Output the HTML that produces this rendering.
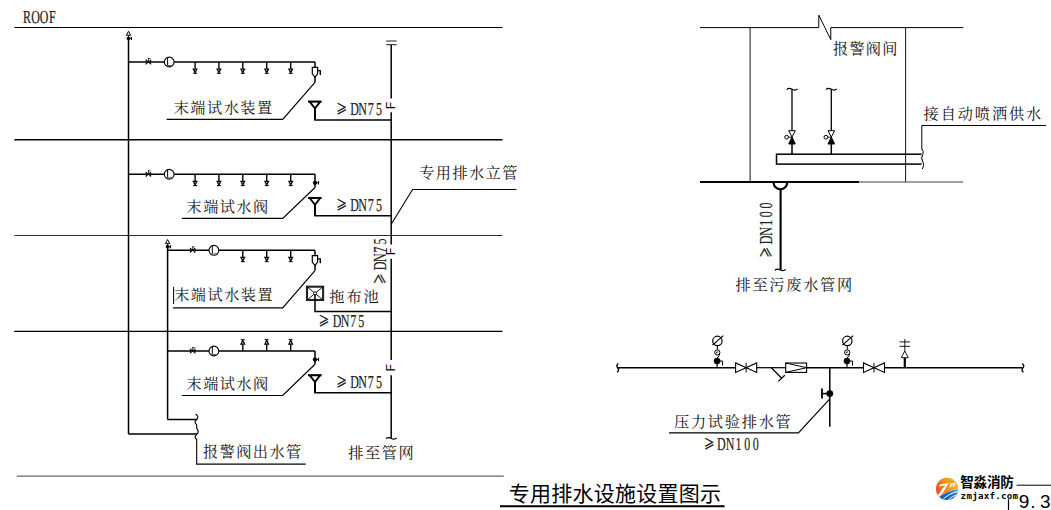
<!DOCTYPE html>
<html lang="zh-CN"><head><meta charset="utf-8"><title>专用排水设施设置图示</title>
<style>
html,body{margin:0;padding:0;background:#fff;}
body{width:1051px;height:510px;overflow:hidden;}
svg{display:block;}
text{fill:#000;}
.s{font-family:"Liberation Serif","Noto Serif CJK SC",serif;font-weight:400;fill:#111;}
.ge{font-family:"Noto Serif CJK SC",serif;fill:#222;font-weight:900;}
.l{font-family:"Liberation Serif","Noto Serif CJK SC",serif;fill:#222;text-rendering:geometricPrecision;}
.h{font-family:"Liberation Sans","Noto Sans CJK SC",sans-serif;}
.hb{font-family:"Liberation Sans","Noto Sans CJK SC",sans-serif;font-weight:700;}
.m{font-family:"DejaVu Sans Mono","Liberation Mono",monospace;font-weight:700;}
.a{font-family:"Liberation Sans",sans-serif;}
</style></head>
<body>
<svg width="1051" height="510" viewBox="0 0 1051 510">
<rect x="0" y="0" width="1051" height="510" fill="#fff"/>
<line x1="14.4" y1="27.5" x2="502.5" y2="27.5" stroke="#000" stroke-width="1.0" />
<line x1="14.4" y1="139.7" x2="502.5" y2="139.7" stroke="#000" stroke-width="1.5" />
<line x1="14.4" y1="235.5" x2="502.5" y2="235.5" stroke="#2a2a2a" stroke-width="1.1" />
<line x1="14.2" y1="331.35" x2="502.5" y2="331.35" stroke="#000" stroke-width="1.2" />
<line x1="16.7" y1="476.1" x2="503.8" y2="476.1" stroke="#666" stroke-width="1.4" />
<g>
<text class="l" text-anchor="middle" transform="scale(0.655,1)" x="41.37 54.24 67.11 79.98" y="22.5" font-size="18.3" stroke="#222" stroke-width="0.2">ROOF</text>
</g>
<line x1="128.5" y1="39" x2="128.5" y2="434.1" stroke="#000" stroke-width="1.5" />
<polygon points="128.5,31.2 126.4,35.3 130.6,35.3" fill="none" stroke="#000" stroke-width="1.0" />
<line x1="128.5" y1="35.3" x2="128.5" y2="39" stroke="#000" stroke-width="0.9" />
<circle cx="128.5" cy="38.4" r="1.6" fill="#000" stroke="#000" stroke-width="0.5"/>
<line x1="128.5" y1="38.4" x2="131.5" y2="38.4" stroke="#000" stroke-width="1.0" />
<line x1="131.5" y1="36.8" x2="131.5" y2="40" stroke="#000" stroke-width="1.0" />
<polyline points="128.5,434.1 197,434.1" fill="none" stroke="#000" stroke-width="1.5" />
<line x1="167.6" y1="247.3" x2="167.6" y2="419.5" stroke="#000" stroke-width="1.5" />
<polygon points="167.6,239.5 165.5,243.60000000000002 169.7,243.60000000000002" fill="none" stroke="#000" stroke-width="1.0" />
<line x1="167.6" y1="243.60000000000002" x2="167.6" y2="247.3" stroke="#000" stroke-width="0.9" />
<circle cx="167.6" cy="246.70000000000002" r="1.6" fill="#000" stroke="#000" stroke-width="0.5"/>
<line x1="167.6" y1="246.70000000000002" x2="170.6" y2="246.70000000000002" stroke="#000" stroke-width="1.0" />
<line x1="170.6" y1="245.10000000000002" x2="170.6" y2="248.3" stroke="#000" stroke-width="1.0" />
<polyline points="167.6,419.5 197,419.5" fill="none" stroke="#000" stroke-width="1.5" />
<path d="M195.5,414 Q199.6,416.5 196.7,419.5 Q193.4,422.3 196.7,424.8 L196.7,428.3 Q199.6,431.5 196.7,434.4 Q193.4,437.2 196.7,439.5" fill="none" stroke="#000" stroke-width="1.1" />
<polyline points="196.7,439 196.7,464.1 305.7,464.1" fill="none" stroke="#000" stroke-width="1.1" />
<line x1="386.2" y1="41.0" x2="396.7" y2="41.0" stroke="#222" stroke-width="1.0" />
<line x1="386.2" y1="44.7" x2="396.7" y2="44.7" stroke="#000" stroke-width="0.9" />
<line x1="391.2" y1="44.7" x2="391.2" y2="98.6" stroke="#000" stroke-width="1.5" />
<text class="a" transform="translate(395.00,109.25) rotate(-90)" x="0" y="0" font-size="12.2">F</text>
<line x1="391.2" y1="112.2" x2="391.2" y2="244.4" stroke="#000" stroke-width="1.5" />
<text class="a" transform="translate(395.00,255.15) rotate(-90)" x="0" y="0" font-size="12.2">F</text>
<line x1="391.2" y1="258.8" x2="391.2" y2="360" stroke="#000" stroke-width="1.5" />
<text class="a" transform="translate(395.00,371.55) rotate(-90)" x="0" y="0" font-size="12.2">F</text>
<line x1="391.2" y1="375.2" x2="391.2" y2="438" stroke="#000" stroke-width="1.5" />
<path d="M385.9,438.7 q2,-2 5,-0.5 q3.5,2 5.8,-0.3" fill="none" stroke="#000" stroke-width="1.2" />
<line x1="128.5" y1="62.0" x2="315.0" y2="62.0" stroke="#000" stroke-width="1.5" />
<polygon points="146.1,59.7 146.1,64.3 150.70000000000002,59.7 150.70000000000002,64.3" fill="#333" stroke="#000" stroke-width="0.8" />
<line x1="148.4" y1="62.0" x2="148.4" y2="58.5" stroke="#000" stroke-width="0.8" />
<line x1="147.9" y1="58.5" x2="150.4" y2="58.5" stroke="#000" stroke-width="0.8" />
<circle cx="169.2" cy="62.0" r="4.9" fill="#fff" stroke="#000" stroke-width="1.1"/>
<line x1="167.6" y1="57.4" x2="167.6" y2="65.5" stroke="#000" stroke-width="1.0" />
<line x1="167.6" y1="65.5" x2="171.9" y2="65.5" stroke="#666" stroke-width="1.0" />
<line x1="195.1" y1="62.0" x2="195.1" y2="68.7" stroke="#000" stroke-width="1.4" />
<polygon points="193.29999999999998,69.0 196.9,69.0 195.1,72.6" fill="none" stroke="#000" stroke-width="1.25" />
<line x1="193.2" y1="73.3" x2="197.0" y2="73.3" stroke="#000" stroke-width="1.1" />
<line x1="218.9" y1="62.0" x2="218.9" y2="68.7" stroke="#000" stroke-width="1.4" />
<polygon points="217.1,69.0 220.70000000000002,69.0 218.9,72.6" fill="none" stroke="#000" stroke-width="1.25" />
<line x1="217.0" y1="73.3" x2="220.8" y2="73.3" stroke="#000" stroke-width="1.1" />
<line x1="242.8" y1="62.0" x2="242.8" y2="68.7" stroke="#000" stroke-width="1.4" />
<polygon points="241.0,69.0 244.60000000000002,69.0 242.8,72.6" fill="none" stroke="#000" stroke-width="1.25" />
<line x1="240.9" y1="73.3" x2="244.70000000000002" y2="73.3" stroke="#000" stroke-width="1.1" />
<line x1="266.7" y1="62.0" x2="266.7" y2="68.7" stroke="#000" stroke-width="1.4" />
<polygon points="264.9,69.0 268.5,69.0 266.7,72.6" fill="none" stroke="#000" stroke-width="1.25" />
<line x1="264.8" y1="73.3" x2="268.59999999999997" y2="73.3" stroke="#000" stroke-width="1.1" />
<line x1="290.7" y1="62.0" x2="290.7" y2="68.7" stroke="#000" stroke-width="1.4" />
<polygon points="288.9,69.0 292.5,69.0 290.7,72.6" fill="none" stroke="#000" stroke-width="1.25" />
<line x1="288.8" y1="73.3" x2="292.59999999999997" y2="73.3" stroke="#000" stroke-width="1.1" />
<line x1="315.0" y1="62.0" x2="315.0" y2="82.3" stroke="#000" stroke-width="1.5" />
<path d="M312.3,67.4 H317.6 V73.8 L315.0,77.3 L312.3,73.8 Z" fill="#fff" stroke="#000" stroke-width="1.2" />
<path d="M317.6,70.6 H320.3 V75.0" fill="none" stroke="#000" stroke-width="1.4" />
<polyline points="315.0,82.3 282.7,119.4 166.7,119.4" fill="none" stroke="#000" stroke-width="1.2" />
<line x1="308.0" y1="101.6" x2="321.6" y2="101.6" stroke="#000" stroke-width="2.1" />
<polyline points="309.6,101.6 315.0,108.39999999999999 320.2,101.6" fill="none" stroke="#000" stroke-width="1.9" />
<line x1="315.0" y1="107.6" x2="315.0" y2="120.1" stroke="#000" stroke-width="2.0" />
<polyline points="315.0,109.6 315.0,120.1 391.2,120.1" fill="none" stroke="#000" stroke-width="1.5" />
<text class="s" x="173.72 190.37 207.02 223.67 240.33 256.98" y="112.7" font-size="15.2">末端试水装置</text>
<g>
<text class="ge" transform="translate(336.40,113.90) scale(0.8,1.08)" x="0" y="0" font-size="13" stroke="#222" stroke-width="0.5">≥</text>
<text class="l" text-anchor="middle" transform="scale(0.655,1)" x="541.37 553.74 566.11 578.47" y="114.7" font-size="18.3" stroke="#222" stroke-width="0.2">DN75</text>
</g>
<line x1="128.5" y1="174.25" x2="315.0" y2="174.25" stroke="#000" stroke-width="1.5" />
<polygon points="146.1,171.95 146.1,176.55 150.70000000000002,171.95 150.70000000000002,176.55" fill="#333" stroke="#000" stroke-width="0.8" />
<line x1="148.4" y1="174.25" x2="148.4" y2="170.75" stroke="#000" stroke-width="0.8" />
<line x1="147.9" y1="170.75" x2="150.4" y2="170.75" stroke="#000" stroke-width="0.8" />
<circle cx="169.2" cy="174.25" r="4.9" fill="#fff" stroke="#000" stroke-width="1.1"/>
<line x1="167.6" y1="169.65" x2="167.6" y2="177.75" stroke="#000" stroke-width="1.0" />
<line x1="167.6" y1="177.75" x2="171.9" y2="177.75" stroke="#666" stroke-width="1.0" />
<line x1="195.1" y1="174.25" x2="195.1" y2="180.95" stroke="#000" stroke-width="1.4" />
<polygon points="193.29999999999998,181.25 196.9,181.25 195.1,184.85" fill="none" stroke="#000" stroke-width="1.25" />
<line x1="193.2" y1="185.55" x2="197.0" y2="185.55" stroke="#000" stroke-width="1.1" />
<line x1="218.9" y1="174.25" x2="218.9" y2="180.95" stroke="#000" stroke-width="1.4" />
<polygon points="217.1,181.25 220.70000000000002,181.25 218.9,184.85" fill="none" stroke="#000" stroke-width="1.25" />
<line x1="217.0" y1="185.55" x2="220.8" y2="185.55" stroke="#000" stroke-width="1.1" />
<line x1="242.8" y1="174.25" x2="242.8" y2="180.95" stroke="#000" stroke-width="1.4" />
<polygon points="241.0,181.25 244.60000000000002,181.25 242.8,184.85" fill="none" stroke="#000" stroke-width="1.25" />
<line x1="240.9" y1="185.55" x2="244.70000000000002" y2="185.55" stroke="#000" stroke-width="1.1" />
<line x1="266.7" y1="174.25" x2="266.7" y2="180.95" stroke="#000" stroke-width="1.4" />
<polygon points="264.9,181.25 268.5,181.25 266.7,184.85" fill="none" stroke="#000" stroke-width="1.25" />
<line x1="264.8" y1="185.55" x2="268.59999999999997" y2="185.55" stroke="#000" stroke-width="1.1" />
<line x1="290.7" y1="174.25" x2="290.7" y2="180.95" stroke="#000" stroke-width="1.4" />
<polygon points="288.9,181.25 292.5,181.25 290.7,184.85" fill="none" stroke="#000" stroke-width="1.25" />
<line x1="288.8" y1="185.55" x2="292.59999999999997" y2="185.55" stroke="#000" stroke-width="1.1" />
<line x1="315.0" y1="174.25" x2="315.0" y2="187.55" stroke="#000" stroke-width="1.5" />
<circle cx="315.0" cy="182.75" r="1.9" fill="#000" stroke="#000" stroke-width="0.5"/>
<line x1="315.0" y1="182.75" x2="318.6" y2="182.75" stroke="#000" stroke-width="1.0" />
<line x1="318.6" y1="180.95" x2="318.6" y2="184.55" stroke="#000" stroke-width="1.0" />
<polyline points="315.0,187.55 282.7,218.4 181.8,218.4" fill="none" stroke="#000" stroke-width="1.2" />
<line x1="308.0" y1="198" x2="321.6" y2="198" stroke="#000" stroke-width="2.1" />
<polyline points="309.6,198 315.0,204.8 320.2,198" fill="none" stroke="#000" stroke-width="1.9" />
<line x1="315.0" y1="204" x2="315.0" y2="215.7" stroke="#000" stroke-width="2.0" />
<polyline points="315.0,206 315.0,215.7 391.2,215.7" fill="none" stroke="#000" stroke-width="1.5" />
<text class="s" x="186.52 203.13 219.75 236.36 252.98" y="212.2" font-size="15.2">末端试水阀</text>
<g>
<text class="ge" transform="translate(336.40,210.00) scale(0.8,1.08)" x="0" y="0" font-size="13" stroke="#222" stroke-width="0.5">≥</text>
<text class="l" text-anchor="middle" transform="scale(0.655,1)" x="541.37 553.74 566.11 578.47" y="210.8" font-size="18.3" stroke="#222" stroke-width="0.2">DN75</text>
</g>
<polyline points="391.2,224.2 412.6,189.5 516.4,189.5" fill="none" stroke="#000" stroke-width="1.1" />
<text class="s" x="419.22 435.81 452.40 468.99 485.59 502.18" y="178.4" font-size="15.2">专用排水立管</text>
<line x1="167.6" y1="250.3" x2="315.0" y2="250.3" stroke="#000" stroke-width="1.5" />
<polygon points="190.39999999999998,248.0 190.39999999999998,252.60000000000002 195.0,248.0 195.0,252.60000000000002" fill="#333" stroke="#000" stroke-width="0.8" />
<line x1="192.7" y1="250.3" x2="192.7" y2="246.8" stroke="#000" stroke-width="0.8" />
<line x1="192.2" y1="246.8" x2="194.7" y2="246.8" stroke="#000" stroke-width="0.8" />
<circle cx="213.9" cy="250.3" r="4.9" fill="#fff" stroke="#000" stroke-width="1.1"/>
<line x1="212.3" y1="245.70000000000002" x2="212.3" y2="253.8" stroke="#000" stroke-width="1.0" />
<line x1="212.3" y1="253.8" x2="216.60000000000002" y2="253.8" stroke="#666" stroke-width="1.0" />
<line x1="242.8" y1="250.3" x2="242.8" y2="257.0" stroke="#000" stroke-width="1.4" />
<polygon points="241.0,257.3 244.60000000000002,257.3 242.8,260.90000000000003" fill="none" stroke="#000" stroke-width="1.25" />
<line x1="240.9" y1="261.6" x2="244.70000000000002" y2="261.6" stroke="#000" stroke-width="1.1" />
<line x1="266.7" y1="250.3" x2="266.7" y2="257.0" stroke="#000" stroke-width="1.4" />
<polygon points="264.9,257.3 268.5,257.3 266.7,260.90000000000003" fill="none" stroke="#000" stroke-width="1.25" />
<line x1="264.8" y1="261.6" x2="268.59999999999997" y2="261.6" stroke="#000" stroke-width="1.1" />
<line x1="290.7" y1="250.3" x2="290.7" y2="257.0" stroke="#000" stroke-width="1.4" />
<polygon points="288.9,257.3 292.5,257.3 290.7,260.90000000000003" fill="none" stroke="#000" stroke-width="1.25" />
<line x1="288.8" y1="261.6" x2="292.59999999999997" y2="261.6" stroke="#000" stroke-width="1.1" />
<line x1="315.0" y1="250.3" x2="315.0" y2="270.6" stroke="#000" stroke-width="1.5" />
<path d="M312.3,255.70000000000002 H317.6 V262.1 L315.0,265.6 L312.3,262.1 Z" fill="#fff" stroke="#000" stroke-width="1.2" />
<path d="M317.6,258.90000000000003 H320.3 V263.3" fill="none" stroke="#000" stroke-width="1.4" />
<polyline points="315.0,270.6 282.7,307.8 172.9,307.8" fill="none" stroke="#000" stroke-width="1.2" />
<line x1="173.6" y1="286.8" x2="173.6" y2="304" stroke="#000" stroke-width="1.0" />
<text class="s" x="174.22 190.87 207.52 224.17 240.83 257.48" y="300.3" font-size="15.2">末端试水装置</text>
<rect x="307" y="286.7" width="16.1" height="13.3" fill="#fff" stroke="#222" stroke-width="2.1"/>
<line x1="307" y1="286.7" x2="323.1" y2="300" stroke="#000" stroke-width="0.9" />
<line x1="307" y1="300" x2="323.1" y2="286.7" stroke="#000" stroke-width="0.9" />
<circle cx="315.0" cy="293.3" r="1.5" fill="#fff" stroke="#000" stroke-width="0.9"/>
<polyline points="315.0,294.8 315.0,311.4 391.2,311.4" fill="none" stroke="#000" stroke-width="1.5" />
<text class="s" x="329.32 346.45 363.58" y="302.4" font-size="15.2">拖布池</text>
<g>
<text class="ge" transform="translate(318.80,325.70) scale(0.8,1.08)" x="0" y="0" font-size="13" stroke="#222" stroke-width="0.5">≥</text>
<text class="l" text-anchor="middle" transform="scale(0.655,1)" x="514.50 526.87 539.24 551.60" y="326.5" font-size="18.3" stroke="#222" stroke-width="0.2">DN75</text>
</g>
<g transform="rotate(-90 0 0)">
<text class="ge" transform="translate(-284.10,385.10) scale(0.8,1.08)" x="0" y="0" font-size="13" stroke="#222" stroke-width="0.5">≥</text>
<text class="l" text-anchor="middle" transform="scale(0.655,1)" x="-405.95 -393.59 -381.22 -368.85" y="385.9" font-size="18.3" stroke="#222" stroke-width="0.2">DN75</text>
</g>
<line x1="167.6" y1="351" x2="315.0" y2="351" stroke="#000" stroke-width="1.5" />
<polygon points="190.39999999999998,348.7 190.39999999999998,353.3 195.0,348.7 195.0,353.3" fill="#333" stroke="#000" stroke-width="0.8" />
<line x1="192.7" y1="351" x2="192.7" y2="347.5" stroke="#000" stroke-width="0.8" />
<line x1="192.2" y1="347.5" x2="194.7" y2="347.5" stroke="#000" stroke-width="0.8" />
<circle cx="213.9" cy="351" r="4.9" fill="#fff" stroke="#000" stroke-width="1.1"/>
<line x1="212.3" y1="346.4" x2="212.3" y2="354.5" stroke="#000" stroke-width="1.0" />
<line x1="212.3" y1="354.5" x2="216.60000000000002" y2="354.5" stroke="#666" stroke-width="1.0" />
<line x1="242.8" y1="351" x2="242.8" y2="344.3" stroke="#000" stroke-width="1.4" />
<polygon points="241.0,344.0 244.60000000000002,344.0 242.8,340.4" fill="none" stroke="#000" stroke-width="1.25" />
<line x1="240.9" y1="339.7" x2="244.70000000000002" y2="339.7" stroke="#000" stroke-width="1.1" />
<line x1="266.7" y1="351" x2="266.7" y2="344.3" stroke="#000" stroke-width="1.4" />
<polygon points="264.9,344.0 268.5,344.0 266.7,340.4" fill="none" stroke="#000" stroke-width="1.25" />
<line x1="264.8" y1="339.7" x2="268.59999999999997" y2="339.7" stroke="#000" stroke-width="1.1" />
<line x1="290.7" y1="351" x2="290.7" y2="344.3" stroke="#000" stroke-width="1.4" />
<polygon points="288.9,344.0 292.5,344.0 290.7,340.4" fill="none" stroke="#000" stroke-width="1.25" />
<line x1="288.8" y1="339.7" x2="292.59999999999997" y2="339.7" stroke="#000" stroke-width="1.1" />
<line x1="315.0" y1="351" x2="315.0" y2="364.3" stroke="#000" stroke-width="1.5" />
<circle cx="315.0" cy="359.5" r="1.9" fill="#000" stroke="#000" stroke-width="0.5"/>
<line x1="315.0" y1="359.5" x2="318.6" y2="359.5" stroke="#000" stroke-width="1.0" />
<line x1="318.6" y1="357.7" x2="318.6" y2="361.3" stroke="#000" stroke-width="1.0" />
<polyline points="315.0,364.3 282.7,395.5 181.8,395.5" fill="none" stroke="#000" stroke-width="1.2" />
<line x1="308.0" y1="375.2" x2="321.6" y2="375.2" stroke="#000" stroke-width="2.1" />
<polyline points="309.6,375.2 315.0,382.0 320.2,375.2" fill="none" stroke="#000" stroke-width="1.9" />
<line x1="315.0" y1="381.2" x2="315.0" y2="392.8" stroke="#000" stroke-width="2.0" />
<polyline points="315.0,383.2 315.0,392.8 391.2,392.8" fill="none" stroke="#000" stroke-width="1.5" />
<text class="s" x="186.52 203.13 219.75 236.36 252.98" y="389.2" font-size="15.2">末端试水阀</text>
<g>
<text class="ge" transform="translate(336.40,387.00) scale(0.8,1.08)" x="0" y="0" font-size="13" stroke="#222" stroke-width="0.5">≥</text>
<text class="l" text-anchor="middle" transform="scale(0.655,1)" x="541.37 553.74 566.11 578.47" y="387.8" font-size="18.3" stroke="#222" stroke-width="0.2">DN75</text>
</g>
<text class="s" x="203.02 219.63 236.24 252.85 269.47 286.08" y="457.4" font-size="15.2">报警阀出水管</text>
<text class="s" x="348.32 365.00 381.69 398.38" y="457.8" font-size="15.2">排至管网</text>
<text class="h" x="508.86 530.09 551.32 572.54 593.77 615.00 636.24 657.47 678.69 699.92" y="501.4" font-size="21">专用排水设施设置图示</text>
<line x1="500" y1="506.2" x2="724.6" y2="506.2" stroke="#000" stroke-width="2.0" />
<polyline points="700,27.6 818.8,27.6 818.8,15.2 830.8,39.6 830.8,27.6 963.3,27.6" fill="none" stroke="#000" stroke-width="1.0" />
<line x1="750.1" y1="27.6" x2="750.1" y2="182" stroke="#111" stroke-width="1.0" />
<line x1="905.6" y1="27.6" x2="905.6" y2="182" stroke="#111" stroke-width="1.0" />
<line x1="700" y1="182" x2="859" y2="182" stroke="#000" stroke-width="1.9" />
<line x1="859" y1="182" x2="963.3" y2="182" stroke="#444" stroke-width="1.1" />
<text class="s" x="833.02 849.40 865.79 882.18" y="54.4" font-size="15.2">报警阀间</text>
<rect x="776.5" y="154.2" width="146" height="9.9" fill="none" stroke="#000" stroke-width="1.5"/>
<rect x="921.5" y="152" width="3" height="14" fill="#fff" stroke="none"/>
<path d="M921.8,149 q2.4,2 1,5.5 q-2.2,3.5 0,7 q2,3.5 -0.5,7.5" fill="none" stroke="#000" stroke-width="1.0" />
<polyline points="921.8,149.5 921.8,125.5 1046,125.5" fill="none" stroke="#000" stroke-width="1.0" />
<text class="s" x="923.62 940.69 957.77 974.85 991.93 1009.00 1026.08" y="119.4" font-size="15.2">接自动喷洒供水</text>
<line x1="792" y1="89.5" x2="792" y2="130.5" stroke="#000" stroke-width="1.3" />
<path d="M786.7,89.6 q2,-2 5,-0.5 q3.5,2 5.8,-0.3" fill="none" stroke="#000" stroke-width="1.2" />
<polygon points="788.7,130.7 795.3,130.7 792,137" fill="#fff" stroke="#000" stroke-width="1.0" />
<polygon points="788.7,144.0 795.3,144.0 792,137" fill="#000" stroke="#000" stroke-width="1.0" />
<line x1="792" y1="144.2" x2="792" y2="154.2" stroke="#000" stroke-width="1.5" />
<line x1="788.4" y1="137.2" x2="792" y2="137.2" stroke="#000" stroke-width="0.9" />
<circle cx="786.6" cy="137.2" r="1.9" fill="#fff" stroke="#000" stroke-width="1.0"/>
<line x1="831.3" y1="89.5" x2="831.3" y2="130.5" stroke="#000" stroke-width="1.3" />
<path d="M826.0,89.6 q2,-2 5,-0.5 q3.5,2 5.8,-0.3" fill="none" stroke="#000" stroke-width="1.2" />
<polygon points="828.0,130.7 834.5999999999999,130.7 831.3,137" fill="#fff" stroke="#000" stroke-width="1.0" />
<polygon points="828.0,144.0 834.5999999999999,144.0 831.3,137" fill="#000" stroke="#000" stroke-width="1.0" />
<line x1="831.3" y1="144.2" x2="831.3" y2="154.2" stroke="#000" stroke-width="1.5" />
<line x1="827.6999999999999" y1="137.2" x2="831.3" y2="137.2" stroke="#000" stroke-width="0.9" />
<circle cx="825.9" cy="137.2" r="1.9" fill="#fff" stroke="#000" stroke-width="1.0"/>
<path d="M773.6,182.5 A6.8,6.8 0 0 0 787.2,182.5" fill="none" stroke="#000" stroke-width="2.2" />
<line x1="780.6" y1="189" x2="780.6" y2="269.5" stroke="#000" stroke-width="2.1" />
<path d="M775,270.2 q2,-2 5,-0.5 q3.5,2 5.8,-0.3" fill="none" stroke="#000" stroke-width="1.3" />
<g transform="rotate(-90 0 0)">
<text class="ge" transform="translate(-257.40,771.30) scale(0.8,1.08)" x="0" y="0" font-size="13" stroke="#222" stroke-width="0.5">≥</text>
<text class="l" text-anchor="middle" transform="scale(0.655,1)" x="-366.41 -353.28 -340.15 -327.02 -313.89" y="772.1" font-size="18.3" stroke="#222" stroke-width="0.2">DN100</text>
</g>
<text class="s" x="735.52 752.43 769.34 786.25 803.16 820.07 836.98" y="289.6" font-size="15.2">排至污废水管网</text>
<line x1="617.7" y1="367.7" x2="735.5" y2="367.7" stroke="#000" stroke-width="1.5" />
<line x1="757" y1="367.7" x2="785.7" y2="367.7" stroke="#000" stroke-width="1.25" />
<line x1="806.6" y1="367.7" x2="863.4" y2="367.7" stroke="#000" stroke-width="1.5" />
<line x1="884.7" y1="367.7" x2="1022.3" y2="367.7" stroke="#000" stroke-width="1.5" />
<path d="M618.3,363.5 q-2.5,2 -0.6,4.3 q2,2.3 -0.6,4.5" fill="none" stroke="#000" stroke-width="1.4" />
<path d="M1022.3,363.5 q2.5,2 0.6,4.3 q-2,2.3 0.6,4.5" fill="none" stroke="#000" stroke-width="1.4" />
<polygon points="735.6,362.9 735.6,372.5 756.7,362.9 756.7,372.5" fill="#fff" stroke="#000" stroke-width="1.1" />
<line x1="746.1500000000001" y1="362.9" x2="746.1500000000001" y2="372.5" stroke="#000" stroke-width="1.0" />
<polygon points="863.5,362.9 863.5,372.5 884.5,362.9 884.5,372.5" fill="#fff" stroke="#000" stroke-width="1.1" />
<line x1="874.0" y1="362.9" x2="874.0" y2="372.5" stroke="#000" stroke-width="1.0" />
<circle cx="717.4" cy="340.9" r="4.7" fill="none" stroke="#000" stroke-width="1.2"/>
<line x1="712.5" y1="345.1" x2="723.3000000000001" y2="335.6" stroke="#000" stroke-width="1.2" />
<line x1="717.4" y1="345.6" x2="717.4" y2="349.6" stroke="#000" stroke-width="1.0" />
<circle cx="717.3000000000001" cy="352.4" r="2.6" fill="none" stroke="#000" stroke-width="1.0"/>
<path d="M716.2,353.2 q0.3,-2 2,-1.2" fill="none" stroke="#000" stroke-width="0.9" />
<path d="M719.7,353.6 q-0.3,2.4 -2.5,4.4" fill="none" stroke="#000" stroke-width="1.0" />
<circle cx="717.1" cy="361" r="3.1" fill="#000" stroke="#000" stroke-width="0.5"/>
<line x1="717.1" y1="361" x2="717.1" y2="367.7" stroke="#000" stroke-width="1.2" />
<polyline points="719.1,361 722.6,361 722.6,365.6" fill="none" stroke="#000" stroke-width="1.0" />
<circle cx="847.3" cy="340.9" r="4.7" fill="none" stroke="#000" stroke-width="1.2"/>
<line x1="842.4" y1="345.1" x2="853.2" y2="335.6" stroke="#000" stroke-width="1.2" />
<line x1="847.3" y1="345.6" x2="847.3" y2="349.6" stroke="#000" stroke-width="1.0" />
<circle cx="847.2" cy="352.4" r="2.6" fill="none" stroke="#000" stroke-width="1.0"/>
<path d="M846.1,353.2 q0.3,-2 2,-1.2" fill="none" stroke="#000" stroke-width="0.9" />
<path d="M849.6,353.6 q-0.3,2.4 -2.5,4.4" fill="none" stroke="#000" stroke-width="1.0" />
<circle cx="847" cy="361" r="3.1" fill="#000" stroke="#000" stroke-width="0.5"/>
<line x1="847" y1="361" x2="847" y2="367.7" stroke="#000" stroke-width="1.2" />
<polyline points="849,361 852.5,361 852.5,365.6" fill="none" stroke="#000" stroke-width="1.0" />
<polyline points="771.3,367.7 781.7,378.2" fill="none" stroke="#000" stroke-width="1.25" />
<line x1="778.3" y1="381.4" x2="784.8" y2="375.2" stroke="#000" stroke-width="1.25" />
<rect x="785.7" y="363" width="20.9" height="9.4" fill="#fff" stroke="#000" stroke-width="1.1"/>
<polyline points="785.7,363 806.6,367.7 785.7,372.4" fill="none" stroke="#000" stroke-width="1.0" />
<line x1="904.8" y1="367.7" x2="904.8" y2="357.7" stroke="#000" stroke-width="2.2" />
<polygon points="901.3,357.7 908.3,357.7 904.8,351" fill="#fff" stroke="#000" stroke-width="0.9" />
<line x1="904.8" y1="351" x2="904.8" y2="339" stroke="#000" stroke-width="0.9" />
<line x1="899.5" y1="341.9" x2="910" y2="341.9" stroke="#000" stroke-width="0.9" />
<line x1="899.5" y1="346.3" x2="910" y2="346.3" stroke="#000" stroke-width="0.9" />
<line x1="829.8" y1="367.7" x2="829.8" y2="426.7" stroke="#000" stroke-width="1.5" />
<circle cx="829.8" cy="393.6" r="3.2" fill="#000" stroke="#000" stroke-width="0.5"/>
<line x1="821.8" y1="393.6" x2="829.8" y2="393.6" stroke="#000" stroke-width="1.6" />
<line x1="822" y1="388.5" x2="822" y2="398.5" stroke="#000" stroke-width="1.8" />
<polyline points="829.8,398.9 798.4,432.9 669,432.9" fill="none" stroke="#000" stroke-width="1.2" />
<text class="s" x="674.02 690.94 707.87 724.80 741.73 758.65 775.58" y="427.0" font-size="15.2">压力试验排水管</text>
<g>
<text class="ge" transform="translate(704.00,449.10) scale(0.8,1.08)" x="0" y="0" font-size="13" stroke="#222" stroke-width="0.5">≥</text>
<text class="l" text-anchor="middle" transform="scale(0.655,1)" x="1101.37 1114.50 1127.63 1140.76 1153.89" y="449.9" font-size="18.3" stroke="#222" stroke-width="0.2">DN100</text>
</g>
<defs>
<linearGradient id="lg1" x1="0" y1="0.6" x2="1" y2="0.2"><stop offset="0" stop-color="#e84a1c"/><stop offset="0.45" stop-color="#f58a16"/><stop offset="1" stop-color="#fbc02a"/></linearGradient>
<linearGradient id="lg2" x1="0.2" y1="1" x2="1" y2="0"><stop offset="0" stop-color="#1450ac"/><stop offset="0.6" stop-color="#1f74cf"/><stop offset="1" stop-color="#45b0ee"/></linearGradient>
<clipPath id="lc"><circle cx="947.05" cy="488.9" r="11.1"/></clipPath>
</defs>
<g clip-path="url(#lc)">
<rect x="935" y="477" width="24" height="24" fill="url(#lg1)"/>
<path d="M937,499.5 Q944,491.5 959,488.4 V501 H937 Z" fill="#fff"/>
<path d="M939,497.6 Q946.5,490.6 959,488.9 V501 H940 Z" fill="url(#lg2)"/>
<path d="M942.6,499.8 Q949,493.2 958.5,491.2 M946.8,501 Q952,495.6 959,494.2" stroke="#fff" stroke-width="1.0" fill="none"/>
<path d="M940,484.2 L948.6,483.2 L942.6,493.6 Q941,495.6 938.6,497 L938,495 L945,485.6 L939.2,486.4 Z" fill="#fff"/>
<path d="M950.6,483.2 L955.4,482.8 L954,486.8 L952.6,487 L953.4,484.4 L951.8,484.6 L951,487.2 L949.6,487.4 Z" fill="#fff"/>
</g>
<text class="hb" x="960.3 973.6 986.9 1000.2" y="487.3" font-size="13.6" stroke="#fff" stroke-width="2.2" paint-order="stroke" stroke-linejoin="round">智淼消防</text>
<text class="m" x="960.60 966.38 972.16 977.94 983.72 989.50 995.28 1001.06 1006.84 1012.62" y="498.6" font-size="9.2" stroke="#fff" stroke-width="1.6" paint-order="stroke" stroke-linejoin="round">zmjaxf.com</text>
<line x1="1016.6" y1="485.2" x2="1051" y2="485.2" stroke="#000" stroke-width="1.0" />
<line x1="1008.5" y1="499.3" x2="1008.5" y2="510" stroke="#000" stroke-width="1.2" />
<text class="a" x="1018.8 1030.2 1039.9" y="507.8" font-size="19">9.3</text>
</svg>
</body></html>
